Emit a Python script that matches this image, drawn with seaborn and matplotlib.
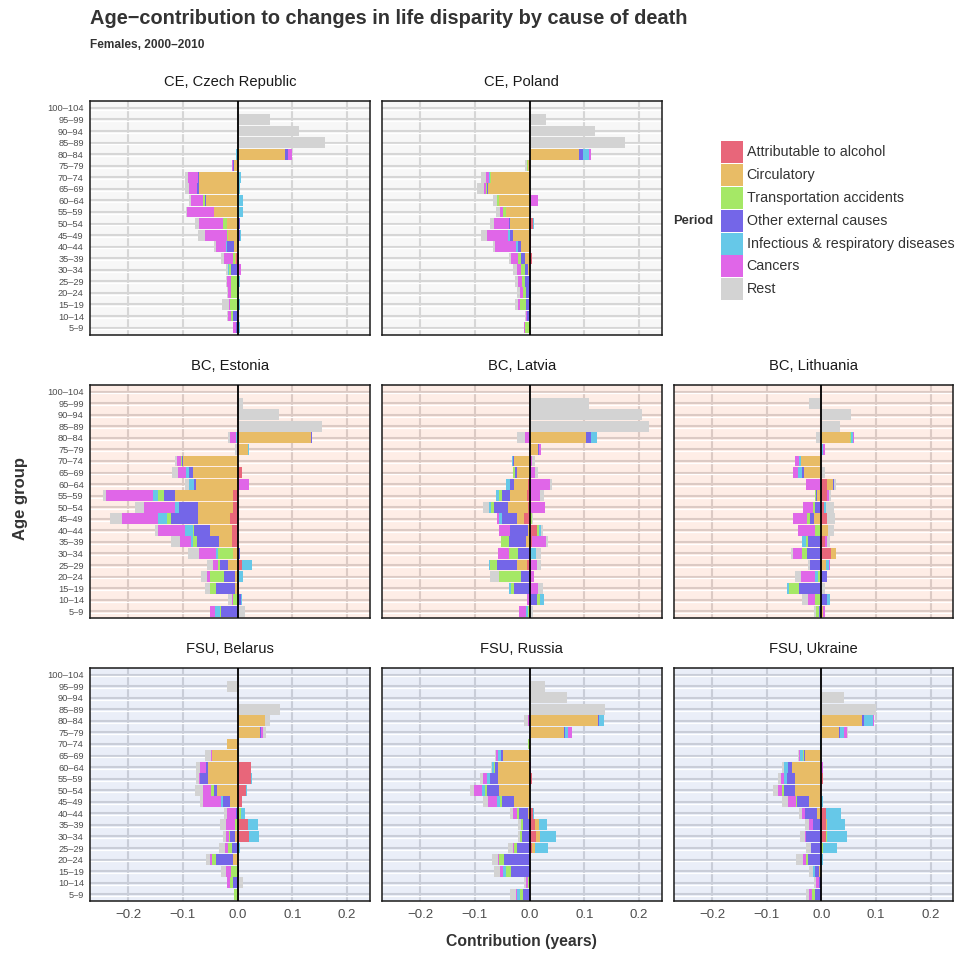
import numpy as np
import pandas as pd
import matplotlib
matplotlib.use("Agg")
import matplotlib.pyplot as plt
import seaborn as sns
from matplotlib.patches import Rectangle

sns.set_theme(style="white")
plt.rcParams['font.family'] = ['Liberation Sans', 'DejaVu Sans']

AGES = ["100\u2013104", "95\u201399", "90\u201394", "85\u201389", "80\u201384", "75\u201379",
        "70\u201374", "65\u201369", "60\u201364", "55\u201359", "50\u201354", "45\u201349",
        "40\u201344", "35\u201339", "30\u201334", "25\u201329", "20\u201324", "15\u201319",
        "10\u201314", "5\u20139"]

CAUSES = ["Attributable to alcohol", "Circulatory", "Transportation accidents",
          "Other external causes", "Infectious & respiratory diseases", "Cancers", "Rest"]
CAUSE_COLORS = ["#E8667A", "#E8BC66", "#A5E866", "#7466E8", "#66C8E8", "#E066E8", "#D3D3D3"]
# order in which segments are stacked outward from zero
STACK_ORDER = ["Attributable to alcohol", "Circulatory", "Other external causes",
               "Transportation accidents", "Infectious & respiratory diseases", "Cancers", "Rest"]

XTICKS = [-0.2, -0.1, 0.0, 0.1, 0.2]
XTICK_LABELS = ["\u22120.2", "\u22120.1", "0.0", "0.1", "0.2"]

# values per age group, listed from 100-104 down to 5-9
CZE = {
    "Attributable to alcohol": [0,0,0,0,0, 0,0,0,0,0, 0,0,0,-0.002,0, 0,0,0,0,0],
    "Circulatory": [0,0,0,0,0.087, -0.006,-0.071,-0.071,-0.058,-0.043, -0.020,-0.018,-0.006,-0.002,0, 0,0,0,0,0],
    "Other external causes": [0,0,0,0,0.0055, -0.002,-0.002,-0.004,-0.002,0, 0.005,0.004,-0.013,0.002,-0.012, 0,0,0,-0.008,-0.002],
    "Transportation accidents": [0,0,0,0,0, 0,0,0,-0.003,0, -0.0067,-0.001,0,-0.005,-0.004, -0.012,-0.012,-0.013,-0.004,0],
    "Infectious & respiratory diseases": [0,0,0,0,-0.002, 0,0.0067,0.005,0.010,0.010, 0,0.002,-0.002,0,-0.002, 0.005,0.003,0.005,0,0.005],
    "Cancers": [0,0,0,0,0.0073, -0.002,-0.017,-0.013,-0.022,-0.049, -0.043,-0.040,-0.018,-0.016,0.007, -0.007,-0.005,-0.002,-0.006,-0.006],
    "Rest": [0,0.060,0.113,0.160,0, -0.001,-0.0055,-0.009,-0.004,-0.002, -0.009,-0.013,-0.004,-0.006,-0.003, -0.002,-0.002,-0.013,-0.002,0],
}
POL = {
    "Attributable to alcohol": [0,0,0,0,0, 0,0,0,0,0, 0.006,0.002,0.002,0.004,0, 0,0,0,0,0],
    "Circulatory": [0,0,0,0,0.090, -0.003,-0.071,-0.076,-0.056,-0.044, -0.036,-0.030,-0.016,-0.0085,-0.003, 0,0,0,0,0],
    "Other external causes": [0,0,0,0,0.007, 0,0,-0.002,0,0.002, -0.002,-0.0055,-0.0055,-0.007,-0.0055, -0.0085,-0.007,-0.007,-0.005,0],
    "Transportation accidents": [0,0,0,0,0, -0.001,-0.002,-0.002,-0.004,-0.004, 0,0,0,-0.0055,-0.007, -0.0055,-0.0055,-0.011,0,-0.0085],
    "Infectious & respiratory diseases": [0,0,0,0,0.011, 0,-0.002,0,0.002,0, 0.002,-0.004,-0.004,0,0, 0,0.002,0,0,0],
    "Cancers": [0,0,0,0,0.004, 0,-0.0055,-0.004,0.013,-0.006, -0.027,-0.038,-0.038,-0.013,-0.007, -0.007,-0.0055,-0.004,-0.002,-0.002],
    "Rest": [0,0.030,0.120,0.174,0, -0.004,-0.009,-0.013,-0.007,-0.007, -0.007,-0.011,-0.004,-0.004,-0.007, -0.0055,-0.0055,-0.004,-0.002,0],
}
EST = {
    "Attributable to alcohol": [0,0,0,0,0, 0,0,0.0085,0,-0.008, -0.008,-0.013,-0.010,-0.010,0, 0.0085,0,0.002,0,0],
    "Circulatory": [0,0,0,0,0.135, 0.0195,-0.100,-0.081,-0.076,-0.106, -0.064,-0.060,-0.040,-0.024,-0.008, -0.017,-0.004,-0.004,0,0],
    "Other external causes": [0,0,0,0,0.002, 0,-0.001,-0.007,-0.004,-0.020, -0.035,-0.048,-0.029,-0.040,0.005, -0.015,-0.020,-0.035,0.0055,-0.030],
    "Transportation accidents": [0,0,0,0,0, 0,-0.002,0,0,-0.011, 0,-0.009,-0.002,-0.007,-0.027, -0.004,-0.027,-0.011,-0.008,-0.002],
    "Infectious & respiratory diseases": [0,0,0,0,-0.002, 0.002,0,-0.0055,-0.009,-0.009, -0.007,-0.016,-0.015,-0.004,-0.004, 0.018,0.010,0,0.002,-0.009],
    "Cancers": [0,0,0,0,-0.012, -0.001,-0.007,-0.015,0.021,-0.086, -0.057,-0.066,-0.049,-0.020,-0.031, -0.009,-0.0055,0,-0.002,-0.009],
    "Rest": [0,0.010,0.076,0.155,-0.004, -0.004,-0.004,-0.011,-0.007,-0.007, -0.016,-0.022,-0.007,-0.016,-0.020, -0.011,-0.011,-0.009,-0.007,0.014],
}
LVA = {
    "Attributable to alcohol": [0,0,0,0,0, 0,0,0,-0.002,-0.005, -0.002,-0.010,0.013,0.004,0, -0.005,0,0,0,0],
    "Circulatory": [0,0,0,0,0.103, 0.015,-0.029,-0.023,-0.027,-0.031, -0.038,-0.013,-0.003,-0.007,0, -0.018,0,0,0,0],
    "Other external causes": [0,0,0,0,0.010, 0.002,-0.002,-0.004,-0.007,-0.015, -0.026,-0.027,-0.033,-0.031,-0.021, -0.037,-0.016,-0.029,0.013,0],
    "Transportation accidents": [0,0,0,0,0, 0,0,-0.004,0,-0.0055, -0.004,0.004,0.004,-0.015,-0.016, -0.013,-0.040,-0.0055,0.0055,-0.003],
    "Infectious & respiratory diseases": [0,0,0,0,0.010, 0,-0.002,0.002,-0.007,-0.0055, -0.004,-0.0055,0.004,0,0.0115, -0.002,0,-0.004,0.007,-0.004],
    "Cancers": [0,0,0,0,-0.0085, 0.004,0.004,0.007,0.037,0.019, 0.028,-0.004,-0.020,0.026,-0.020, 0.013,0.008,0.015,-0.005,-0.013],
    "Rest": [0,0.109,0.205,0.218,-0.015, 0,0.0055,0.0055,0.004,0.007, -0.011,0.002,0.004,0.004,0.009, 0.007,-0.016,0.009,0,0.006],
}
LTU = {
    "Attributable to alcohol": [0,0,0,0,0, 0,0,0,0.010,0.010, 0.005,0.010,0,0.007,0.018, 0,0,0,0,0],
    "Circulatory": [0,0,0,0,0.052, 0,-0.037,-0.032,0.011,-0.008, 0,-0.013,0.012,0,0.009, 0.0085,0,0,0,0.003],
    "Other external causes": [0,0,0,0,0, 0,0,-0.004,0.002,-0.002, -0.012,-0.007,0,-0.024,-0.026, -0.021,0.010,-0.041,0.010,-0.004],
    "Transportation accidents": [0,0,0,0,0.002, 0,0,0,0,-0.002, -0.004,-0.0055,-0.012,-0.004,-0.009, 0,-0.006,-0.018,-0.012,-0.0055],
    "Infectious & respiratory diseases": [0,0,0,0,0.004, 0.004,-0.004,-0.007,-0.002,0, 0.004,0,0,-0.007,0, 0.0055,-0.0055,-0.004,0.0055,0],
    "Cancers": [0,0,0,0,0.002, 0.003,-0.007,-0.009,-0.026,0.004, -0.018,-0.026,-0.031,0.004,-0.016, 0.002,-0.026,0,-0.013,0.003],
    "Rest": [0,-0.0225,0.054,0.034,-0.010, 0,0,0.007,0.004,0.004, 0.015,0.015,0.011,0.0055,-0.004, -0.004,-0.011,0.007,-0.011,-0.004],
}
BLR = {
    "Attributable to alcohol": [0,0,0,0,0, 0,0,0,0.024,0.025, 0.016,0.0085,0.002,0.019,0.021, 0,0,0,0,0],
    "Circulatory": [0,0,0,0,0.050, 0.041,-0.019,-0.046,-0.054,-0.055, -0.037,-0.013,0,0,-0.0055, 0,-0.008,0,0,0],
    "Other external causes": [0,0,0,0,0, 0.002,0,0,-0.004,-0.013, -0.007,-0.013,-0.002,0,-0.008, -0.010,-0.031,0.002,-0.009,0],
    "Transportation accidents": [0,0,0,0,0.001, 0,0,0,0,0, -0.004,0,0.005,-0.0055,-0.002, -0.007,-0.007,-0.012,-0.004,-0.007],
    "Infectious & respiratory diseases": [0,0,0,0,0, 0,0,0.003,0,0.002, 0.002,-0.004,0.007,0.018,0.018, 0.004,0,0,0,0],
    "Cancers": [0,0,0,0,0, 0.004,0,-0.002,-0.011,-0.002, -0.015,-0.033,-0.018,-0.016,-0.0055, -0.0055,-0.004,-0.009,-0.0055,0.003],
    "Rest": [0,-0.019,0,0.078,0.0085, 0.0055,0,-0.011,-0.007,-0.0055, -0.015,-0.0055,-0.0055,-0.011,-0.0055, -0.011,-0.007,-0.009,0.009,0],
}
RUS = {
    "Attributable to alcohol": [0,0,0,0,0, 0,0,0,0,0.004, 0,0,0.0055,0.010,0.0115, 0.004,0,0,0,0],
    "Circulatory": [0,0,0,0,0.125, 0.063,0,-0.049,-0.058,-0.058, -0.056,-0.029,-0.003,0.007,0.007, 0.0055,0,0,0,0],
    "Other external causes": [0,0,0,0,0.002, 0.002,0,-0.004,-0.0055,-0.015, -0.022,-0.022,-0.0165,-0.012,-0.014, -0.023,-0.047,-0.034,0,-0.012],
    "Transportation accidents": [0,0,0,0,0, 0,-0.003,0,-0.002,0, -0.004,-0.004,-0.004,-0.004,-0.004, -0.0055,-0.009,-0.009,-0.003,-0.0055],
    "Infectious & respiratory diseases": [0,0,0,0,0.009, 0.0055,0,-0.004,-0.004,-0.004, -0.0055,-0.0055,0.002,0.015,0.029, 0.024,0,-0.0055,0,-0.0055],
    "Cancers": [0,0,0,0,-0.003, 0.007,0,-0.004,0.002,-0.009, -0.015,-0.015,-0.007,0,0, -0.002,-0.002,-0.0055,-0.004,-0.002],
    "Rest": [0,0.028,0.068,0.138,-0.007, 0,0,-0.002,-0.002,-0.004, -0.007,-0.009,-0.0055,-0.0055,-0.004, -0.009,-0.011,-0.011,-0.004,-0.011],
}
UKR = {
    "Attributable to alcohol": [0,0,0,0,0, 0,0,0,0,0.003, -0.002,0,0.0085,0.0085,0.0085, 0,0,0,0,0],
    "Circulatory": [0,0,0,0,0.074, 0.032,0,-0.030,-0.054,-0.049, -0.047,-0.023,-0.008,0.002,0, 0.002,0,-0.004,0,0],
    "Other external causes": [0,0,0,0,0.004, 0.002,0,-0.002,-0.007,-0.013, -0.020,-0.022,-0.022,-0.015,-0.028, -0.019,-0.024,-0.007,-0.004,-0.012],
    "Transportation accidents": [0,0,0,0,0, 0,0,-0.002,0,0, -0.002,-0.002,0,0,0.002, 0.002,-0.004,0,0,-0.0055],
    "Infectious & respiratory diseases": [0,0,0,0,0.0165, 0.007,-0.003,-0.0055,-0.007,-0.0055, 0,0.003,0.027,0.033,0.037, 0.024,0.003,-0.004,0,0],
    "Cancers": [0,0,0,0,0.002, 0.0055,0,-0.002,0.003,-0.0055, -0.009,-0.013,-0.0055,-0.007,-0.002, 0,-0.0055,0,-0.006,-0.0055],
    "Rest": [0,0,0.041,0.100,0, 0.002,0,-0.002,-0.004,-0.007, -0.009,-0.011,-0.0055,-0.007,-0.009, -0.009,-0.013,-0.007,-0.004,-0.0055],
}

PANELS = [
    ("CE, Czech Republic", CZE, 0, 0, "CE"),
    ("CE, Poland", POL, 0, 1, "CE"),
    ("BC, Estonia", EST, 1, 0, "BC"),
    ("BC, Latvia", LVA, 1, 1, "BC"),
    ("BC, Lithuania", LTU, 1, 2, "BC"),
    ("FSU, Belarus", BLR, 2, 0, "FSU"),
    ("FSU, Russia", RUS, 2, 1, "FSU"),
    ("FSU, Ukraine", UKR, 2, 2, "FSU"),
]
REGION_BG = {"CE": "#F7F7F7", "BC": "#FEEDE6", "FSU": "#EAEEF8"}
REGION_GRID = {"CE": "#D6D6D6", "BC": "#DCCAC4", "FSU": "#C9CDD8"}

W, H = 963, 955
fig = plt.figure(figsize=(W / 100, H / 100), dpi=100)
fig.patch.set_facecolor("white")

COL_LEFT = [90, 382, 673.7]
ROW_TOP = [101, 384.7, 667.7]
PW, PH = 279.6, 233.5

color_of = dict(zip(CAUSES, CAUSE_COLORS))
TXT = "#4D4D4D"

for title, data, r, c, region in PANELS:
    left = COL_LEFT[c] / W
    bottom = 1 - (ROW_TOP[r] + PH) / H
    ax = fig.add_axes([left, bottom, PW / W, PH / H])
    ax.set_facecolor(REGION_BG[region])
    g = REGION_GRID[region]
    for xv in XTICKS:
        ax.axvline(xv, color=g, lw=1.5, zorder=0.2)
    for k in range(len(AGES)):
        ax.axhline(k, color=g, lw=1.5, zorder=0.2)
        ax.axhline(k + 0.16, color="white", lw=0.9, zorder=0.2)

    vals = np.array([data[cause] for cause in STACK_ORDER], dtype=float)
    pos = np.clip(vals, 0, None).cumsum(axis=0)
    neg = np.clip(vals, None, 0).cumsum(axis=0)
    for i in reversed(range(len(STACK_ORDER))):
        col = color_of[STACK_ORDER[i]]
        df = pd.DataFrame({"age": AGES, "pos": pos[i], "neg": neg[i]})
        for var in ("pos", "neg"):
            sns.barplot(data=df, x=var, y="age", order=AGES, orient="y", color=col,
                        saturation=1, width=0.94, errorbar=None, linewidth=0,
                        edgecolor="none", ax=ax, zorder=2)

    ax.axvline(0, color="black", lw=1.3, zorder=5)
    ax.set_xlim(-0.27, 0.2415)
    ax.set_ylim(19.6, -0.6)
    ax.set_xlabel("")
    ax.set_ylabel("")
    ax.set_xticks(XTICKS)
    ax.set_yticks(range(len(AGES)))
    for s in ax.spines.values():
        s.set_visible(True)
        s.set_color("#1A1A1A")
        s.set_linewidth(1.1)
    if c == 0:
        ax.set_yticklabels(AGES, fontsize=6.7, color=TXT)
        ax.tick_params(axis="y", length=2.5, width=0.7, color="#333333", pad=2)
    else:
        ax.set_yticklabels([])
        ax.tick_params(axis="y", length=0)
    if r == 2:
        ax.set_xticklabels(XTICK_LABELS, fontsize=9.5, color=TXT)
        ax.tick_params(axis="x", length=2.5, width=0.7, color="#333333", pad=3)
    else:
        ax.set_xticklabels([])
        ax.tick_params(axis="x", length=0)
    ax.text(0.5, 1 + 19 / PH, title, transform=ax.transAxes, ha="center", va="center",
            fontsize=10.6, color="#1A1A1A")

fig.text(90 / W, 1 - 18.5 / H, "Age\u2212contribution to changes in life disparity by cause of death",
         fontsize=14.4, fontweight="bold", color="#333333", ha="left", va="center")
fig.text(90 / W, 1 - 45 / H, "Females, 2000\u20132010", fontsize=8.6, fontweight="bold",
         color="#333333", ha="left", va="center")
fig.text(521 / W, 1 - 941 / H, "Contribution (years)", fontsize=11.3, fontweight="bold",
         color="#333333", ha="center", va="center")
fig.text(20 / W, 1 - 498 / H, "Age group", fontsize=12, fontweight="bold", rotation=90,
         color="#333333", ha="center", va="center")

# legend: colour keys and labels
KEY_X, KEY_TOP, KEY_W, KEY_PITCH, KEY_H = 721, 141, 22, 22.9, 22
for i, (lab, colr) in enumerate(zip(CAUSES, CAUSE_COLORS)):
    top = KEY_TOP + i * KEY_PITCH
    fig.add_artist(Rectangle((KEY_X / W, 1 - (top + KEY_H) / H), KEY_W / W, KEY_H / H,
                             transform=fig.transFigure, facecolor=colr, edgecolor="none"))
    fig.text((KEY_X + KEY_W + 3.5) / W, 1 - (top + KEY_H / 2) / H, lab, fontsize=10.3,
             color="#333333", ha="left", va="center")
fig.text(673 / W, 1 - 221 / H, "Period", fontsize=9.3, fontweight="bold", color="#333333",
         ha="left", va="center")

fig.savefig("out.png", dpi=100)
